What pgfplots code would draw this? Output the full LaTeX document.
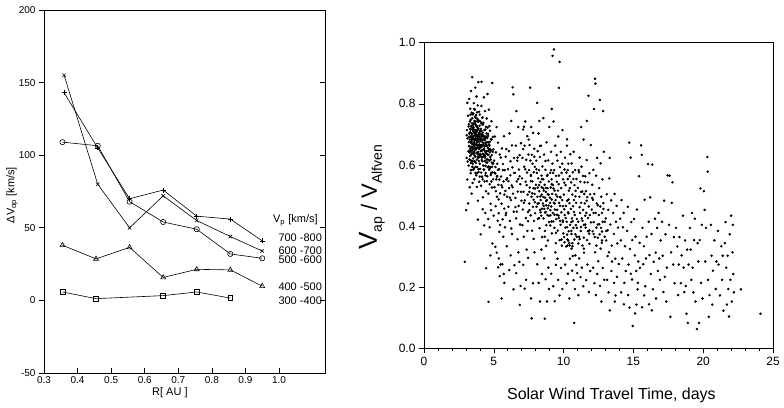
\documentclass[border=0pt]{standalone}
\usepackage{pgfplots}
\pgfplotsset{compat=1.18}
\usepackage{fontspec}
\setmainfont{Liberation Sans}
\setsansfont{Liberation Sans}
\begin{document}
\begin{tikzpicture}
\path[use as bounding box] (0pt,0pt) rectangle (784pt,407pt);
% ---------------- left panel ----------------
\begin{axis}[
  at={(44pt,34pt)}, anchor=south west, scale only axis, width=281pt, height=363pt,
  xmin=0.3, xmax=1.137, ymin=-50, ymax=200,
  xtick={0.3,0.4,0.5,0.6,0.7,0.8,0.9,1.0},
  xticklabels={0.3,0.4,0.5,0.6,0.7,0.8,0.9,1.0},
  ytick={-50,0,50,100,150,200},
  xtick pos=bottom, ytick pos=left,
  xtick align=inside, ytick align=outside,
  major tick length=5pt,
  tick style={black, line width=0.6pt},
  axis line style={line width=0.8pt},
  ticklabel style={font=\fontsize{10}{12}\selectfont},
  /pgf/number format/assume math mode=true,
  xlabel={R[ AU ]},
  xlabel style={at={(axis description cs:0.448,0)}, anchor=center, yshift=-20pt, font=\fontsize{11}{13}\selectfont},
  ylabel={ΔV\textsubscript{αp} [km/s]},
  ylabel style={at={(axis description cs:0,0.49)}, anchor=center, yshift=32pt, font=\fontsize{11}{13}\selectfont},
  clip=false,
]
\addplot[black, line width=0.6pt, mark=+, mark size=2.5pt] coordinates {
 (0.36,143) (0.46,105) (0.555,70) (0.655,76) (0.755,58) (0.855,56) (0.95,41)};
\addplot[black, line width=0.6pt, mark=x, mark size=2.5pt] coordinates {
 (0.36,155) (0.46,80) (0.555,50) (0.655,72) (0.755,55) (0.855,44) (0.95,34)};
\addplot[black, line width=0.6pt, mark=o, mark size=2.6pt] coordinates {
 (0.355,109) (0.46,106.5) (0.555,68) (0.655,54) (0.755,49) (0.855,32) (0.95,29)};
\addplot[black, line width=0.6pt, mark=triangle, mark size=2.8pt] coordinates {
 (0.355,38) (0.455,28.6) (0.555,36.5) (0.655,15.8) (0.755,21.4) (0.855,21) (0.95,9.8)};
\addplot[black, line width=0.6pt, mark=square, mark size=2.4pt] coordinates {
 (0.355,5.8) (0.455,1.2) (0.655,3.3) (0.755,5.8) (0.855,1.6)};
\node[anchor=west, font=\fontsize{11}{13}\selectfont] at (axis cs:0.972,55) {V\textsubscript{p} [km/s]};
\node[anchor=west, font=\fontsize{11}{13}\selectfont] at (axis cs:0.988,43) {700 -800};
\node[anchor=west, font=\fontsize{11}{13}\selectfont] at (axis cs:0.988,34.5) {600 -700};
\node[anchor=west, font=\fontsize{11}{13}\selectfont] at (axis cs:0.988,28) {500 -600};
\node[anchor=west, font=\fontsize{11}{13}\selectfont] at (axis cs:0.988,9.3) {400 -500};
\node[anchor=west, font=\fontsize{11}{13}\selectfont] at (axis cs:0.988,0) {300 -400};
\end{axis}
\begin{axis}[
  at={(44pt,34pt)}, anchor=south west, scale only axis, width=281pt, height=363pt,
  xmin=0.3, xmax=1.137, ymin=-50, ymax=200,
  axis x line=none, axis y line*=right,
  ytick={0,50,100,150}, yticklabels={},
  ytick align=inside, major tick length=5pt,
  tick style={black, line width=0.6pt},
  axis line style={line width=0.8pt},
]
\end{axis}
% ---------------- right panel ----------------
\begin{axis}[
  at={(424pt,58.7pt)}, anchor=south west, scale only axis, width=349pt, height=305.6pt,
  xmin=0, xmax=25, ymin=0, ymax=1,
  xtick={0,5,10,15,20,25}, minor x tick num=4,
  ytick={0,0.2,0.4,0.6,0.8,1.0},
  yticklabels={0.0,0.2,0.4,0.6,0.8,1.0},
  xtick pos=bottom, ytick pos=left,
  tick align=outside,
  major tick length=5pt, minor tick length=3pt,
  tick style={black, line width=0.6pt},
  axis line style={line width=0.8pt},
  ticklabel style={font=\fontsize{12}{14}\selectfont},
  /pgf/number format/assume math mode=true,
  xlabel={Solar Wind Travel Time, days},
  xlabel style={at={(axis description cs:0.537,0)}, anchor=center, yshift=-47pt, font=\fontsize{16}{18}\selectfont},
  ylabel={{\fontsize{26}{28}\selectfont V}\raisebox{-5pt}{\fontsize{14}{16}\selectfont ap}{\fontsize{22}{26}\selectfont\ /\ V}\raisebox{-5pt}{\fontsize{14}{16}\selectfont Alfven}},
  ylabel style={at={(axis description cs:0,0.495)}, anchor=center, yshift=52pt},
]
\addplot[only marks, mark=*, mark size=1.05pt, black] coordinates {
(3.05,0.623) (3.08,0.714) (3.1,0.552) (3.12,0.687) (3.15,0.761) (3.18,0.645) (3.2,0.598) (3.22,0.733) (3.24,0.816) (3.25,0.662) (3.27,0.705) (3.28,0.527) (3.3,0.629) (3.31,0.784) (3.33,0.691) (3.34,0.573) (3.35,0.748) (3.36,0.656) (3.37,0.842) (3.38,0.614) (3.39,0.727) (3.4,0.683) (3.41,0.506) (3.42,0.771) (3.43,0.638) (3.44,0.702) (3.45,0.887) (3.46,0.594) (3.46,0.753) (3.47,0.668) (3.48,0.541) (3.49,0.716) (3.11,0.803) (3.16,0.474) (3.21,0.675) (3.29,0.742) (3.36,0.606) (3.43,0.647) (3.06,0.697) (2.92,0.283) (3.02,0.452)
(3.23,0.692) (3.26,0.618) (3.32,0.707) (3.35,0.583) (3.41,0.659) (3.44,0.736) (3.47,0.612) (3.33,0.764) (3.38,0.677) (3.27,0.641) (3.19,0.726) (3.13,0.611)
(3.51,0.694) (3.52,0.621) (3.53,0.768) (3.54,0.585) (3.55,0.723) (3.56,0.661) (3.57,0.802) (3.58,0.637) (3.59,0.706) (3.6,0.553) (3.61,0.744) (3.62,0.679) (3.63,0.612) (3.64,0.781) (3.65,0.715) (3.66,0.648) (3.67,0.853) (3.68,0.686) (3.69,0.574) (3.7,0.732) (3.71,0.665) (3.72,0.607) (3.73,0.763) (3.74,0.701) (3.75,0.639) (3.76,0.824) (3.77,0.672) (3.78,0.528) (3.79,0.727) (3.8,0.656) (3.81,0.593) (3.82,0.751) (3.83,0.694) (3.84,0.626) (3.85,0.795) (3.86,0.483) (3.87,0.718) (3.88,0.642) (3.89,0.871) (3.9,0.675) (3.91,0.577) (3.92,0.746) (3.93,0.613) (3.94,0.699) (3.95,0.774) (3.96,0.545) (3.97,0.663) (3.98,0.728) (3.99,0.604) (3.86,0.421)
(3.53,0.684) (3.57,0.643) (3.61,0.697) (3.64,0.668) (3.68,0.733) (3.72,0.652) (3.75,0.708) (3.79,0.617) (3.83,0.743) (3.87,0.658) (3.91,0.702) (3.95,0.635) (3.58,0.589) (3.66,0.758) (3.74,0.566) (3.82,0.678)
(4.01,0.683) (4.02,0.587) (4.04,0.742) (4.05,0.634) (4.07,0.718) (4.08,0.532) (4.1,0.665) (4.11,0.793) (4.13,0.616) (4.14,0.697) (4.16,0.561) (4.17,0.754) (4.19,0.648) (4.2,0.706) (4.22,0.494) (4.23,0.627) (4.25,0.738) (4.26,0.672) (4.28,0.585) (4.29,0.821) (4.31,0.653) (4.32,0.714) (4.34,0.546) (4.35,0.613) (4.37,0.776) (4.38,0.681) (4.4,0.597) (4.41,0.642) (4.43,0.725) (4.44,0.514) (4.46,0.663) (4.47,0.608) (4.49,0.752) (4.12,0.872) (4.21,0.455) (4.31,0.402) (4.39,0.443) (4.45,0.262) (4.06,0.373) (4.15,0.624)
(4.03,0.657) (4.09,0.701) (4.18,0.675) (4.24,0.598) (4.27,0.694) (4.33,0.631) (4.36,0.688) (4.42,0.574) (4.48,0.637) (4.14,0.562) (4.22,0.732) (4.39,0.716)
(4.51,0.674) (4.53,0.563) (4.55,0.722) (4.57,0.618) (4.59,0.695) (4.61,0.506) (4.63,0.647) (4.65,0.781) (4.67,0.584) (4.69,0.663) (4.71,0.537) (4.73,0.712) (4.75,0.626) (4.77,0.473) (4.79,0.685) (4.81,0.574) (4.83,0.743) (4.85,0.632) (4.87,0.526) (4.89,0.868) (4.91,0.604) (4.93,0.692) (4.95,0.553) (4.97,0.651) (4.99,0.434) (4.6,0.423) (4.7,0.396) (4.8,0.452) (4.9,0.343) (4.62,0.152) (4.75,0.304) (4.55,0.832)
(4.54,0.608) (4.58,0.656) (4.64,0.595) (4.68,0.727) (4.72,0.641) (4.78,0.567) (4.84,0.683) (4.88,0.594)
(3.31,0.652) (3.34,0.716) (3.37,0.695) (3.39,0.634) (3.42,0.688) (3.45,0.657) (3.48,0.684) (3.5,0.731) (3.52,0.668) (3.55,0.642) (3.57,0.716) (3.6,0.673) (3.62,0.735) (3.63,0.655) (3.65,0.684) (3.67,0.627) (3.69,0.708) (3.71,0.742) (3.73,0.681) (3.76,0.654) (3.78,0.713) (3.8,0.687) (3.82,0.641) (3.84,0.722) (3.86,0.664) (3.88,0.695) (3.9,0.623) (3.92,0.684) (3.94,0.652) (3.96,0.706) (3.98,0.667) (4.0,0.629) (4.02,0.712) (4.04,0.678) (4.06,0.645) (4.08,0.693) (4.1,0.627) (4.12,0.659) (4.14,0.734) (4.16,0.682) (4.18,0.612) (4.2,0.665) (4.23,0.698) (4.26,0.635) (4.29,0.664) (4.32,0.683) (4.35,0.646) (4.38,0.628) (4.41,0.693) (4.44,0.667) (4.47,0.703) (4.5,0.645) (4.53,0.688) (4.56,0.634) (4.6,0.674) (4.64,0.652) (4.68,0.614) (4.72,0.676) (4.76,0.593) (4.8,0.647) (4.86,0.608) (4.92,0.643) (3.4,0.583) (3.5,0.604) (3.6,0.612) (3.7,0.594) (3.8,0.573) (3.9,0.586) (4.0,0.562) (4.1,0.575) (4.2,0.553) (4.3,0.584) (4.4,0.566) (4.5,0.547) (3.5,0.765) (3.6,0.783) (3.7,0.754) (3.8,0.772) (3.9,0.742) (4.0,0.765) (4.1,0.737) (4.2,0.756)
(3.22,0.661) (3.25,0.702) (3.28,0.683) (3.3,0.718) (3.32,0.645) (3.35,0.672) (3.38,0.726) (3.4,0.703) (3.43,0.676) (3.46,0.721) (3.49,0.652) (3.51,0.712) (3.54,0.687) (3.56,0.736) (3.59,0.661) (3.61,0.632) (3.64,0.705) (3.66,0.686) (3.69,0.653) (3.71,0.694) (3.74,0.727) (3.77,0.698) (3.79,0.664) (3.81,0.712) (3.84,0.683) (3.87,0.634) (3.89,0.718) (3.92,0.656) (3.95,0.692) (3.97,0.627) (4.01,0.712) (4.04,0.663) (4.07,0.686) (4.1,0.712) (4.13,0.648) (4.17,0.693) (4.21,0.637) (4.25,0.684) (4.28,0.652) (4.31,0.693) (4.34,0.661) (4.37,0.624) (4.4,0.672) (4.43,0.638) (4.46,0.692) (4.49,0.618) (4.52,0.662) (4.55,0.593) (4.58,0.702) (4.62,0.633) (4.66,0.667) (4.7,0.588) (4.74,0.652) (4.78,0.618) (4.82,0.546) (4.9,0.576) (4.96,0.605) (5.04,0.575) (5.12,0.593) (5.22,0.562) (5.3,0.584) (5.4,0.552)
(5.15,0.514) (5.35,0.487) (5.55,0.534) (5.75,0.503) (5.95,0.556) (6.15,0.493) (6.35,0.527) (6.55,0.462) (6.75,0.554) (6.95,0.512) (7.15,0.476) (7.35,0.534) (7.55,0.452) (7.75,0.507) (7.95,0.478) (8.15,0.526) (8.35,0.445) (8.55,0.523) (8.75,0.482) (8.95,0.434) (9.15,0.537) (9.35,0.474) (9.55,0.496) (9.75,0.417) (9.95,0.465) (10.15,0.426) (10.35,0.487) (10.55,0.413) (10.75,0.446) (10.95,0.394) (11.15,0.462) (11.35,0.417) (11.55,0.434) (11.75,0.383) (11.95,0.412) (12.15,0.443) (12.35,0.395) (12.55,0.406) (12.75,0.382) (12.95,0.414)
(5.25,0.564) (5.65,0.583) (6.05,0.547) (6.45,0.574) (6.85,0.563) (7.25,0.586) (7.65,0.564) (8.05,0.586) (8.45,0.553) (8.85,0.567) (9.25,0.574) (9.65,0.537) (10.05,0.542) (10.45,0.524) (10.85,0.497) (11.25,0.512) (11.65,0.483) (12.05,0.492) (12.45,0.468) (12.85,0.456)
(5.45,0.404) (5.85,0.436) (6.25,0.392) (6.65,0.447) (7.05,0.403) (7.45,0.416) (7.85,0.358) (8.25,0.426) (8.65,0.365) (9.05,0.402) (9.45,0.378) (9.85,0.356) (10.25,0.372) (10.65,0.302) (11.05,0.343) (11.45,0.326) (11.85,0.342) (12.25,0.314) (12.65,0.326) (13.15,0.302)
(5.5,0.624) (5.9,0.652) (6.3,0.664) (6.7,0.624) (7.1,0.652) (7.5,0.683) (7.9,0.627) (8.3,0.662) (8.7,0.613) (9.1,0.583) (9.5,0.632) (9.9,0.604) (10.3,0.583) (10.7,0.554) (11.1,0.576) (11.5,0.543)
(5.02,0.614) (5.05,0.527) (5.08,0.693) (5.1,0.572) (5.13,0.465) (5.15,0.641) (5.18,0.553) (5.2,0.724) (5.23,0.496) (5.25,0.604) (5.28,0.417) (5.3,0.673) (5.33,0.535) (5.35,0.442) (5.38,0.586) (5.4,0.381) (5.43,0.634) (5.45,0.507) (5.48,0.274) (5.11,0.332) (5.21,0.313) (5.31,0.265) (5.42,0.236) (5.36,0.294)
(5.52,0.562) (5.55,0.473) (5.58,0.654) (5.6,0.527) (5.63,0.422) (5.65,0.603) (5.68,0.365) (5.7,0.546) (5.73,0.694) (5.75,0.457) (5.78,0.583) (5.8,0.396) (5.83,0.515) (5.85,0.627) (5.88,0.443) (5.9,0.552) (5.93,0.334) (5.56,0.163) (5.61,0.275) (5.71,0.243) (5.76,0.214) (5.95,0.496)
(6.02,0.586) (6.05,0.463) (6.08,0.645) (6.1,0.524) (6.13,0.703) (6.15,0.417) (6.18,0.566) (6.2,0.612) (6.23,0.485) (6.25,0.744) (6.28,0.533) (6.3,0.374) (6.33,0.592) (6.35,0.854) (6.38,0.506) (6.4,0.831) (6.43,0.447) (6.45,0.623) (6.48,0.272) (6.21,0.304) (6.41,0.193) (6.11,0.256)
(6.52,0.574) (6.55,0.492) (6.58,0.663) (6.6,0.425) (6.62,0.776) (6.65,0.546) (6.68,0.614) (6.7,0.357) (6.72,0.513) (6.75,0.724) (6.78,0.466) (6.8,0.585) (6.83,0.283) (6.85,0.632) (6.88,0.405) (6.9,0.537) (6.92,0.204) (6.95,0.671) (6.98,0.483) (6.61,0.246) (6.86,0.142) (6.76,0.314)
(7.02,0.556) (7.05,0.623) (7.08,0.454) (7.1,0.716) (7.13,0.512) (7.15,0.365) (7.18,0.594) (7.2,0.663) (7.22,0.484) (7.25,0.742) (7.28,0.545) (7.3,0.426) (7.32,0.617) (7.35,0.323) (7.38,0.575) (7.4,0.694) (7.42,0.503) (7.45,0.446) (7.48,0.634) (7.11,0.273) (7.21,0.195) (7.31,0.224) (7.46,0.296) (7.41,0.384) (7.16,0.725)
(7.52,0.583) (7.54,0.474) (7.56,0.665) (7.58,0.526) (7.6,0.853) (7.62,0.614) (7.64,0.435) (7.66,0.567) (7.68,0.724) (7.7,0.496) (7.72,0.633) (7.74,0.385) (7.76,0.546) (7.78,0.604) (7.8,0.463) (7.82,0.705) (7.84,0.524) (7.86,0.576) (7.88,0.417) (7.9,0.653) (7.92,0.505) (7.94,0.594) (7.96,0.442) (7.71,0.098) (7.81,0.213) (7.91,0.314) (7.66,0.163)
(8.02,0.535) (8.04,0.614) (8.06,0.463) (8.08,0.574) (8.1,0.803) (8.12,0.496) (8.14,0.645) (8.16,0.424) (8.18,0.556) (8.2,0.703) (8.22,0.475) (8.24,0.583) (8.26,0.514) (8.28,0.393) (8.3,0.626) (8.32,0.453) (8.34,0.544) (8.36,0.485) (8.38,0.663) (8.4,0.434) (8.42,0.565) (8.44,0.503) (8.46,0.364) (8.48,0.595) (8.11,0.275) (8.21,0.214) (8.31,0.153) (8.41,0.323) (8.26,0.744) (8.45,0.243)
(8.52,0.474) (8.54,0.553) (8.56,0.425) (8.58,0.516) (8.6,0.634) (8.62,0.456) (8.64,0.535) (8.66,0.384) (8.68,0.493) (8.7,0.584) (8.72,0.446) (8.74,0.525) (8.76,0.403) (8.78,0.674) (8.8,0.485) (8.82,0.564) (8.84,0.436) (8.86,0.504) (8.88,0.353) (8.9,0.615) (8.92,0.467) (8.94,0.546) (8.96,0.413) (8.98,0.724) (8.61,0.294) (8.71,0.226) (8.81,0.153) (8.91,0.264) (8.65,0.097) (8.75,0.335) (8.95,0.194) (8.55,0.753)
(8.33,0.497) (8.57,0.466) (8.73,0.512) (8.87,0.458) (9.03,0.476) (9.27,0.523) (9.53,0.437) (9.77,0.494) (8.43,0.527) (8.67,0.444) (8.93,0.503) (9.13,0.415)
(7.55,0.512) (7.85,0.486) (8.15,0.473) (8.45,0.457) (8.75,0.468) (9.05,0.452) (9.35,0.437) (9.65,0.426) (9.95,0.418) (10.25,0.396) (10.55,0.384) (10.85,0.373) (11.15,0.357) (11.45,0.362) (7.65,0.547) (7.95,0.523) (8.25,0.534) (8.55,0.495) (8.85,0.524) (9.15,0.487) (9.45,0.503) (9.75,0.466) (10.05,0.455) (10.35,0.442) (10.65,0.416) (10.95,0.423) (11.25,0.397) (11.55,0.405) (11.85,0.386) (12.15,0.374) (12.45,0.362) (12.75,0.353) (13.05,0.384)
(9.02,0.493) (9.04,0.574) (9.06,0.435) (9.08,0.526) (9.1,0.643) (9.12,0.464) (9.14,0.553) (9.16,0.376) (9.18,0.505) (9.2,0.604) (9.22,0.443) (9.24,0.534) (9.26,0.415) (9.28,0.742) (9.3,0.476) (9.32,0.583) (9.34,0.394) (9.36,0.516) (9.38,0.454) (9.4,0.663) (9.42,0.485) (9.44,0.344) (9.46,0.564) (9.48,0.423) (9.21,0.957) (9.31,0.978) (9.15,0.783) (9.11,0.244) (9.26,0.203) (9.36,0.154) (9.45,0.273) (9.41,0.314)
(9.52,0.545) (9.54,0.453) (9.56,0.614) (9.58,0.385) (9.6,0.516) (9.62,0.693) (9.64,0.434) (9.66,0.565) (9.68,0.476) (9.71,0.937) (9.72,0.354) (9.74,0.593) (9.76,0.495) (9.78,0.404) (9.8,0.643) (9.82,0.524) (9.84,0.445) (9.86,0.574) (9.88,0.336) (9.9,0.485) (9.92,0.714) (9.94,0.413) (9.96,0.553) (9.98,0.376) (9.66,0.852) (9.61,0.224) (9.71,0.173) (9.81,0.263) (9.91,0.194) (9.56,0.293)
(10.02,0.503) (10.04,0.364) (10.06,0.585) (10.08,0.436) (10.1,0.624) (10.12,0.395) (10.14,0.534) (10.16,0.466) (10.18,0.333) (10.2,0.575) (10.22,0.414) (10.24,0.663) (10.26,0.483) (10.28,0.356) (10.3,0.554) (10.32,0.445) (10.34,0.604) (10.36,0.383) (10.38,0.516) (10.4,0.344) (10.42,0.475) (10.44,0.563) (10.46,0.404) (10.48,0.635) (10.11,0.274) (10.21,0.213) (10.31,0.244) (10.41,0.163) (10.45,0.293) (10.25,0.684)
(10.07,0.347) (10.27,0.336) (10.33,0.352) (10.43,0.337) (10.57,0.326) (10.63,0.344)
(10.52,0.456) (10.54,0.543) (10.56,0.374) (10.58,0.605) (10.6,0.425) (10.62,0.503) (10.64,0.334) (10.66,0.576) (10.68,0.465) (10.7,0.394) (10.72,0.643) (10.74,0.485) (10.76,0.356) (10.78,0.534) (10.8,0.436) (10.82,0.583) (10.84,0.304) (10.86,0.515) (10.88,0.403) (10.9,0.476) (10.92,0.554) (10.94,0.365) (10.61,0.254) (10.71,0.223) (10.76,0.083) (10.81,0.194) (10.91,0.273) (10.98,0.246)
(11.02,0.525) (11.05,0.414) (11.08,0.583) (11.1,0.365) (11.13,0.496) (11.15,0.624) (11.18,0.443) (11.2,0.545) (11.23,0.384) (11.25,0.476) (11.28,0.594) (11.3,0.425) (11.33,0.513) (11.35,0.336) (11.38,0.564) (11.4,0.453) (11.43,0.683) (11.45,0.404) (11.48,0.505) (11.11,0.294) (11.21,0.233) (11.31,0.264) (11.41,0.203) (11.26,0.724) (11.46,0.313) (11.06,0.174)
(11.52,0.474) (11.55,0.563) (11.58,0.395) (11.6,0.514) (11.63,0.443) (11.65,0.616) (11.68,0.354) (11.7,0.495) (11.73,0.543) (11.75,0.426) (11.78,0.826) (11.8,0.464) (11.83,0.375) (11.85,0.573) (11.88,0.436) (11.9,0.504) (11.61,0.223) (11.71,0.274) (11.81,0.184) (11.91,0.253) (11.95,0.665) (11.66,0.744)
(12.02,0.454) (12.05,0.535) (12.08,0.383) (12.1,0.486) (12.13,0.584) (12.15,0.413) (12.18,0.783) (12.2,0.505) (12.23,0.364) (12.25,0.882) (12.28,0.866) (12.3,0.443) (12.33,0.565) (12.35,0.336) (12.38,0.474) (12.4,0.623) (12.45,0.405) (12.11,0.264) (12.21,0.213) (12.31,0.174) (12.41,0.243) (12.48,0.285)
(12.52,0.436) (12.55,0.524) (12.58,0.373) (12.6,0.813) (12.63,0.464) (12.65,0.605) (12.68,0.394) (12.7,0.496) (12.73,0.345) (12.75,0.443) (12.78,0.553) (12.8,0.414) (12.83,0.776) (12.85,0.475) (12.61,0.204) (12.71,0.153) (12.81,0.263) (12.91,0.224) (12.95,0.365) (12.88,0.643)
(13.02,0.425) (13.05,0.353) (13.1,0.504) (13.15,0.386) (13.2,0.453) (13.25,0.314) (13.3,0.623) (13.35,0.405) (13.4,0.484) (13.45,0.336) (13.12,0.224) (13.22,0.183) (13.31,0.124) (13.42,0.253) (13.27,0.556) (13.47,0.284)
(13.55,0.443) (13.6,0.374) (13.65,0.505) (13.7,0.293) (13.75,0.414) (13.8,0.466) (13.85,0.343) (13.9,0.395) (13.62,0.214) (13.72,0.173) (13.82,0.234) (13.95,0.276) (13.67,0.153)
(14.05,0.424) (14.1,0.353) (14.15,0.485) (14.2,0.294) (14.25,0.396) (14.3,0.443) (14.35,0.214) (14.4,0.334) (14.12,0.183) (14.32,0.144) (14.45,0.253)
(14.55,0.384) (14.6,0.463) (14.65,0.274) (14.7,0.673) (14.75,0.325) (14.8,0.624) (14.85,0.413) (14.9,0.225) (14.62,0.174) (14.72,0.133) (14.82,0.244) (14.95,0.073) (14.92,0.354)
(15.05,0.423) (15.1,0.304) (15.15,0.365) (15.2,0.253) (15.25,0.454) (15.3,0.193) (15.35,0.284) (15.4,0.563) (15.45,0.345) (15.12,0.114) (15.22,0.143) (15.32,0.214) (15.47,0.263)
(15.55,0.664) (15.6,0.633) (15.65,0.394) (15.7,0.275) (15.75,0.334) (15.8,0.486) (15.85,0.203) (15.9,0.294) (15.62,0.134) (15.77,0.173) (15.95,0.365)
(16.05,0.603) (16.1,0.414) (16.15,0.305) (16.2,0.494) (16.25,0.243) (16.3,0.374) (16.35,0.601) (16.4,0.193) (16.12,0.144) (16.32,0.124) (16.45,0.283)
(16.55,0.424) (16.6,0.313) (16.7,0.394) (16.75,0.253) (16.8,0.443) (16.9,0.224) (16.62,0.163) (16.85,0.294) (16.95,0.353)
(17.05,0.414) (17.1,0.303) (17.2,0.483) (17.25,0.234) (17.3,0.373) (17.4,0.264) (17.45,0.566) (17.15,0.184) (17.35,0.153)
(17.55,0.404) (17.6,0.565) (17.7,0.314) (17.75,0.476) (17.8,0.543) (17.85,0.274) (17.9,0.364) (17.65,0.103) (17.95,0.213)
(18.05,0.394) (18.15,0.333) (18.25,0.274) (18.3,0.364) (18.4,0.213) (18.2,0.174) (18.45,0.304)
(18.55,0.434) (18.6,0.264) (18.7,0.353) (18.75,0.204) (18.8,0.113) (18.85,0.323) (18.9,0.083) (18.95,0.274) (18.65,0.184)
(19.05,0.394) (19.1,0.323) (19.2,0.443) (19.25,0.264) (19.3,0.183) (19.35,0.354) (19.4,0.424) (19.45,0.153) (19.15,0.224)
(19.55,0.063) (19.6,0.344) (19.65,0.284) (19.7,0.083) (19.8,0.523) (19.85,0.214) (19.9,0.404) (19.95,0.163) (19.75,0.354)
(20.05,0.514) (20.1,0.453) (20.15,0.284) (20.2,0.394) (20.3,0.626) (20.32,0.578) (20.35,0.224) (20.4,0.103) (20.45,0.174)
(20.55,0.404) (20.6,0.303) (20.7,0.254) (20.8,0.353) (20.9,0.194) (20.95,0.284) (20.65,0.143)
(21.05,0.384) (21.1,0.274) (21.2,0.173) (21.3,0.334) (21.35,0.224) (21.45,0.123) (21.4,0.303)
(21.55,0.344) (21.6,0.413) (21.65,0.264) (21.7,0.143) (21.75,0.303) (21.8,0.194) (21.85,0.104) (21.9,0.373) (21.95,0.224)
(22.0,0.434) (22.05,0.153) (22.1,0.314) (22.15,0.243) (22.2,0.183) (22.12,0.404)
(22.7,0.193) (24.1,0.113)
};
\end{axis}
\end{tikzpicture}
\end{document}
